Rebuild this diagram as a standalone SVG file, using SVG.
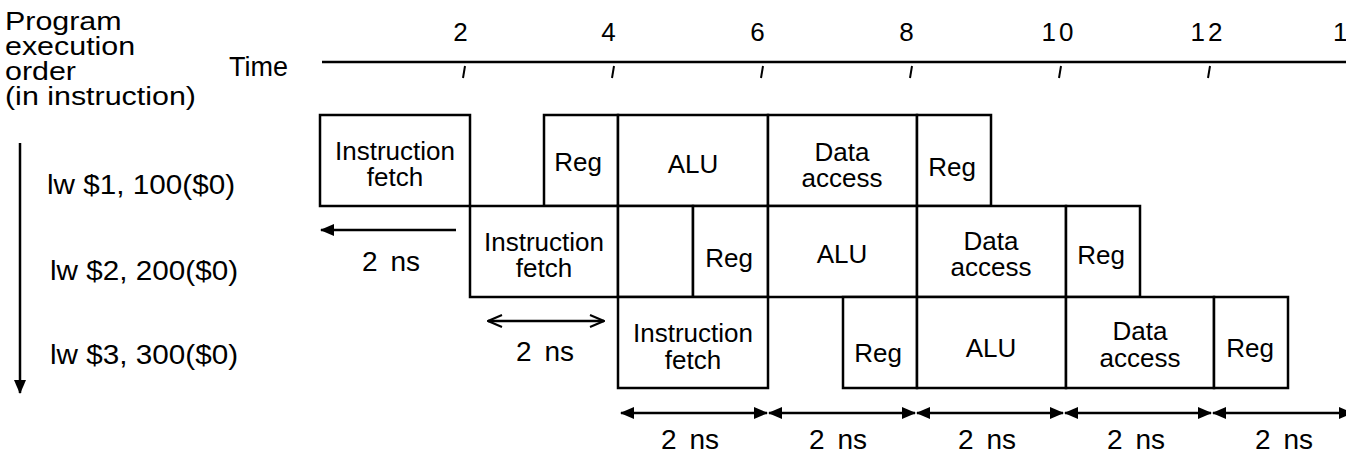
<svg xmlns="http://www.w3.org/2000/svg" width="1346" height="453" viewBox="0 0 1346 453">
  <style>
    .t { font-family: "Liberation Sans", Arial, Helvetica, sans-serif; font-size: 28px; fill: #000; }
    .ttl { font-size: 26px; }
    .num { font-size: 26px; letter-spacing: 3px; text-anchor: middle; }
    .ns { word-spacing: 5px; text-anchor: middle; }
    .bt { font-family: "Liberation Sans", Arial, Helvetica, sans-serif; font-size: 26px; fill: #000; text-anchor: middle; }
    .stage { fill: #fff; stroke: #000; stroke-width: 2.5; }
    .ln { stroke: #000; stroke-width: 2.5; fill: none; }
    .tick { stroke: #000; stroke-width: 2; }
  </style>
  <defs>
    <marker id="solid" viewBox="0 0 14 12" refX="13" refY="6" markerWidth="14" markerHeight="12" markerUnits="userSpaceOnUse" orient="auto-start-reverse">
      <path d="M0,0 L14,6 L0,12 Z" fill="#000"/>
    </marker>
    <marker id="open" viewBox="0 0 16 14" refX="15" refY="7" markerWidth="16" markerHeight="14" markerUnits="userSpaceOnUse" orient="auto-start-reverse">
      <path d="M1,1 L15,7 L1,13" fill="none" stroke="#000" stroke-width="2"/>
    </marker>
  </defs>

  <!-- left-hand titles, set slightly wide -->
  <g id="order-title" transform="translate(5,0) scale(1.17,1)">
    <text class="t ttl" x="0" y="30">Program</text>
    <text class="t ttl" x="0" y="55">execution</text>
    <text class="t ttl" x="0" y="80">order</text>
    <text class="t ttl" x="0" y="105">(in instruction)</text>
  </g>
  <g id="time-label"><text class="t" style="font-size:27px" x="229" y="76">Time</text></g>

  <!-- time axis -->
  <g id="time-axis">
    <line class="ln" x1="322" y1="62" x2="1346" y2="62"/>
    <line class="tick" x1="465" y1="66" x2="463" y2="78"/>
    <line class="tick" x1="614" y1="66" x2="612" y2="78"/>
    <line class="tick" x1="763" y1="66" x2="761" y2="78"/>
    <line class="tick" x1="912" y1="66" x2="910" y2="78"/>
    <line class="tick" x1="1061" y1="66" x2="1059" y2="78"/>
    <line class="tick" x1="1210" y1="66" x2="1208" y2="78"/>
    <text class="t num" x="462" y="41">2</text>
    <text class="t num" x="610" y="41">4</text>
    <text class="t num" x="759" y="41">6</text>
    <text class="t num" x="908" y="41">8</text>
    <text class="t num" x="1059" y="41">10</text>
    <text class="t num" x="1208" y="41">12</text>
    <text class="t" style="font-size:26px" x="1333" y="41">1</text>
  </g>

  <!-- instruction labels -->
  <g id="instr-labels">
    <text class="t" transform="translate(47,194) scale(1.06,1)">lw $1, 100($0)</text>
    <text class="t" transform="translate(50,280) scale(1.06,1)">lw $2, 200($0)</text>
    <text class="t" transform="translate(50,364) scale(1.06,1)">lw $3, 300($0)</text>
  </g>

  <!-- instruction 1 -->
  <g id="i1-fetch"><rect class="stage" x="320" y="115" width="150" height="91"/>
    <text class="bt" x="395" y="160">Instruction</text><text class="bt" x="395" y="186">fetch</text></g>
  <g id="i1-reg"><rect class="stage" x="544" y="115" width="74" height="91"/>
    <text class="bt" x="578" y="171">Reg</text></g>
  <g id="i1-alu"><rect class="stage" x="618" y="115" width="150" height="91"/>
    <text class="bt" x="693" y="173">ALU</text></g>
  <g id="i1-data"><rect class="stage" x="768" y="115" width="149" height="91"/>
    <text class="bt" x="842" y="161">Data</text><text class="bt" x="842" y="187">access</text></g>
  <g id="i1-wb"><rect class="stage" x="917" y="115" width="74" height="91"/>
    <text class="bt" x="952" y="176">Reg</text></g>

  <!-- instruction 2 -->
  <g id="i2-fetch"><rect class="stage" x="470" y="206" width="148" height="91"/>
    <text class="bt" x="544" y="251">Instruction</text><text class="bt" x="544" y="277">fetch</text></g>
  <g id="i2-gap"><rect class="stage" x="618" y="206" width="75" height="91"/></g>
  <g id="i2-reg"><rect class="stage" x="693" y="206" width="75" height="91"/>
    <text class="bt" x="729" y="267">Reg</text></g>
  <g id="i2-alu"><rect class="stage" x="768" y="206" width="149" height="91"/>
    <text class="bt" x="842" y="263">ALU</text></g>
  <g id="i2-data"><rect class="stage" x="917" y="206" width="149" height="91"/>
    <text class="bt" x="991" y="250">Data</text><text class="bt" x="991" y="276">access</text></g>
  <g id="i2-wb"><rect class="stage" x="1066" y="206" width="74" height="91"/>
    <text class="bt" x="1101" y="264">Reg</text></g>

  <!-- instruction 3 -->
  <g id="i3-fetch"><rect class="stage" x="618" y="297" width="150" height="91"/>
    <text class="bt" x="693" y="342">Instruction</text><text class="bt" x="693" y="369">fetch</text></g>
  <g id="i3-reg"><rect class="stage" x="843" y="297" width="74" height="91"/>
    <text class="bt" x="878" y="362">Reg</text></g>
  <g id="i3-alu"><rect class="stage" x="917" y="297" width="149" height="91"/>
    <text class="bt" x="991" y="357">ALU</text></g>
  <g id="i3-data"><rect class="stage" x="1066" y="297" width="148" height="91"/>
    <text class="bt" x="1140" y="340">Data</text><text class="bt" x="1140" y="367">access</text></g>
  <g id="i3-wb"><rect class="stage" x="1214" y="297" width="74" height="91"/>
    <text class="bt" x="1250" y="357">Reg</text></g>

  <!-- arrows -->
  <g id="connectors">
    <line class="ln" x1="20" y1="143" x2="20" y2="393" marker-end="url(#solid)"/>
    <line class="ln" x1="456" y1="230" x2="321" y2="230" marker-end="url(#solid)"/>
    <line class="ln" x1="488" y1="321" x2="604" y2="321" marker-start="url(#open)" marker-end="url(#open)"/>
    <line class="ln" x1="621" y1="413" x2="767" y2="413" marker-start="url(#solid)" marker-end="url(#solid)"/>
    <line class="ln" x1="769" y1="413" x2="915" y2="413" marker-start="url(#solid)" marker-end="url(#solid)"/>
    <line class="ln" x1="917" y1="413" x2="1063" y2="413" marker-start="url(#solid)" marker-end="url(#solid)"/>
    <line class="ln" x1="1065" y1="413" x2="1211" y2="413" marker-start="url(#solid)" marker-end="url(#solid)"/>
    <line class="ln" x1="1213" y1="413" x2="1352" y2="413" marker-start="url(#solid)" marker-end="url(#solid)"/>
  </g>

  <!-- duration labels -->
  <g id="durations">
    <text class="t ns" x="391" y="271">2 ns</text>
    <text class="t ns" x="545" y="361">2 ns</text>
    <text class="t ns" x="690" y="449">2 ns</text>
    <text class="t ns" x="838" y="449">2 ns</text>
    <text class="t ns" x="987" y="449">2 ns</text>
    <text class="t ns" x="1136" y="449">2 ns</text>
    <text class="t ns" x="1284" y="449">2 ns</text>
  </g>
</svg>
